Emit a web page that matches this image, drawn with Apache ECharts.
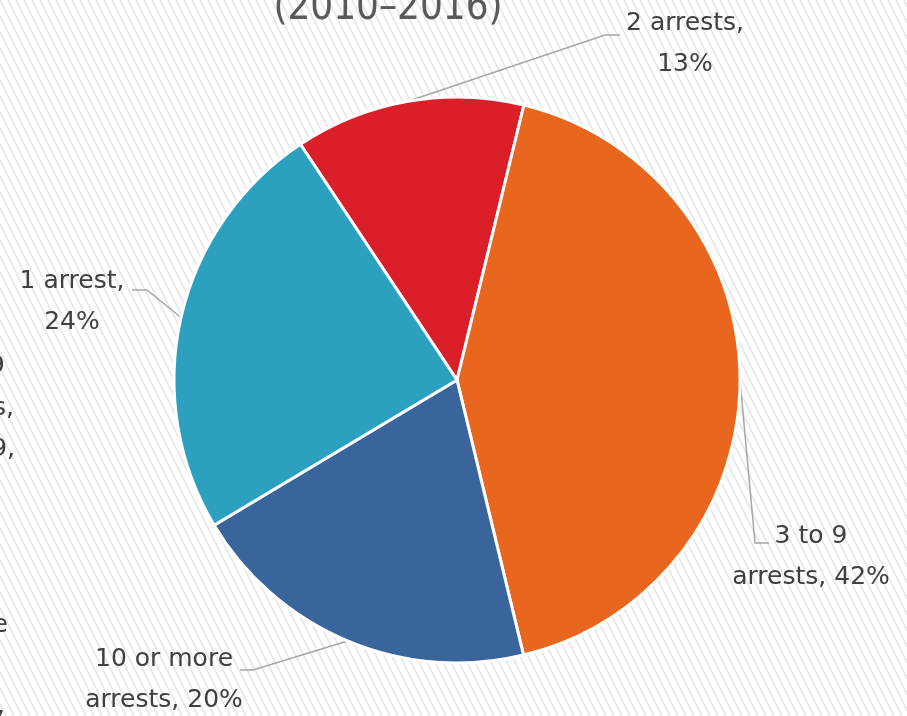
<!DOCTYPE html>
<html>
<head>
<meta charset="utf-8">
<script src="https://cdn.jsdelivr.net/npm/echarts@6/dist/echarts.min.js"></script>
<style>
html,body{margin:0;padding:0;background:#fff;}
#chart{width:907px;height:716px;}
</style>
</head>
<body>
<div id="chart"></div>
<script>
// Data (clockwise order starting with "2 arrests")
const categories = ["2 arrests", "3 to 9 arrests", "10 or more arrests", "1 arrest"];
const values = [13, 42, 20, 24];
const labelTexts = ["2 arrests,\n13%", "3 to 9\narrests, 42%", "10 or more\narrests, 20%", "1 arrest,\n24%"];
const colors = ["#DA1F28", "#E9661F", "#3A649C", "#2CA1BF"];
const titleText = "(2010\u20132016)";

// label placement (center of label block) and leader elbows
const labelPos = [[685, 44], [811, 557], [164, 680], [72, 302]];
const lineElbow = [[[605, 35], [620, 35]], [[755, 543], [769, 543]], [[253, 670], [240, 670]], [[147, 290], [132, 290]]];

// hatch background
const tile = document.createElement('canvas');
tile.width = 8; tile.height = 16;
const c = tile.getContext('2d');
c.fillStyle = '#ffffff'; c.fillRect(0, 0, 8, 16);
c.strokeStyle = '#e9e9e9'; c.lineWidth = 2;
[-8, 0, 8].forEach(o => { c.beginPath(); c.moveTo(o, 0); c.lineTo(o + 8, 16); c.stroke(); });

const LF = '25px DejaVu Sans, sans-serif';
const chart = echarts.init(document.getElementById('chart'), null, {renderer: 'canvas'});
chart.setOption({
  backgroundColor: {image: tile, repeat: 'repeat'},
  animation: false,
  graphic: [
    {type: 'text', x: 0, y: 0, style: {text: titleText, x: 388, y: -11, textAlign: 'center', textVerticalAlign: 'top', font: '40px DejaVu Sans Condensed, Liberation Sans Narrow, sans-serif', fill: '#595959'}},
    {type: 'text', style: {text: '3 to 9', x: 5, y: 366, textAlign: 'right', textVerticalAlign: 'middle', font: LF, fill: '#404040'}},
    {type: 'text', style: {text: 'arrests,', x: 14, y: 408, textAlign: 'right', textVerticalAlign: 'middle', font: LF, fill: '#404040'}},
    {type: 'text', style: {text: '29,', x: 15, y: 449, textAlign: 'right', textVerticalAlign: 'middle', font: LF, fill: '#404040'}},
    {type: 'text', style: {text: 'more', x: 8, y: 625, textAlign: 'right', textVerticalAlign: 'middle', font: LF, fill: '#404040'}},
    {type: 'text', style: {text: 'arrests,', x: 5, y: 706, textAlign: 'right', textVerticalAlign: 'middle', font: LF, fill: '#404040'}}
  ],
  series: [{
    type: 'pie',
    center: [457, 380],
    radius: 283,
    startAngle: 123.6,
    clockwise: true,
    silent: true,
    itemStyle: {borderColor: '#ffffff', borderWidth: 3},
    label: {
      show: true,
      formatter: p => labelTexts[p.dataIndex],
      color: '#404040',
      fontSize: 25,
      fontFamily: 'DejaVu Sans',
      lineHeight: 41,
      align: 'center',
      overflow: 'none'
    },
    labelLine: {show: true, lineStyle: {color: '#a6a6a6', width: 1.5}, length: 20, length2: 10},
    labelLayout: function (params) {
      const i = params.dataIndex;
      const start = params.labelLinePoints ? params.labelLinePoints[0] : null;
      const res = {x: labelPos[i][0], y: labelPos[i][1], align: 'center', verticalAlign: 'middle'};
      if (start) res.labelLinePoints = [start, lineElbow[i][0], lineElbow[i][1]];
      return res;
    },
    data: categories.map((n, i) => ({name: n, value: values[i], itemStyle: {color: colors[i]}}))
  }]
});
</script>
</body>
</html>
